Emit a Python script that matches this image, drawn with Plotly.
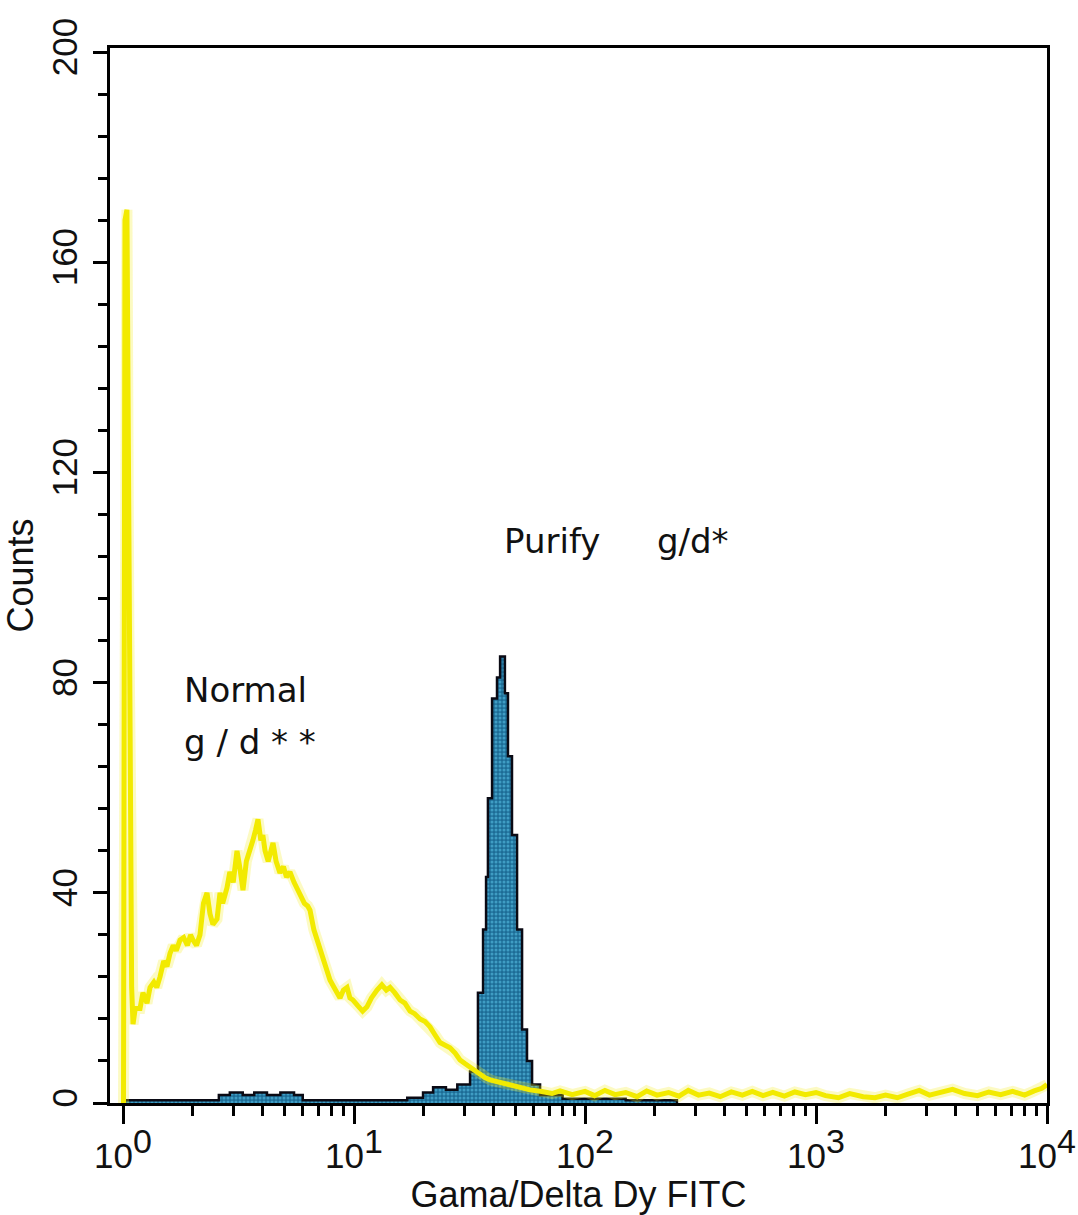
import numpy as np
import plotly.graph_objects as go

# ---- Normal g/d (yellow line histogram): intensity vs counts ----
normal_x = [1.005, 1.02, 1.04, 1.06, 1.09, 1.105, 1.13, 1.185, 1.22, 1.27, 1.309, 1.36, 1.40,
            1.446, 1.50, 1.55, 1.598, 1.65, 1.70, 1.765, 1.83, 1.90, 1.96, 2.01, 2.08, 2.154,
            2.23, 2.31, 2.38, 2.45, 2.553, 2.63, 2.70, 2.82, 2.90, 3.00, 3.115, 3.20, 3.307,
            3.42, 3.546, 3.65, 3.75, 3.84, 3.95, 4.03, 4.12, 4.25, 4.46, 4.6, 4.78, 4.95, 5.1,
            5.28, 5.5, 5.65, 5.84, 6.1, 6.3, 6.45, 6.7, 6.92, 7.1, 7.34, 7.6, 7.87, 8.2, 8.4,
            8.70, 9.0, 9.33, 9.6, 9.90, 10.4, 10.9, 11.38, 11.9, 12.58, 13.2, 13.8, 14.32, 15.0,
            15.82, 16.6, 17.48, 18.3, 19.31, 20.3, 21.33, 22.4, 23.57, 24.8, 26.04, 27.4, 28.77,
            30.2, 31.78, 33.4, 35.12, 37, 38.8, 42, 47.4, 52, 57.8, 65, 72, 78, 88, 100, 110,
            122, 135, 150, 168, 185, 205, 230, 255, 280, 310, 345, 385, 430, 480, 530, 590, 650,
            730, 810, 900, 1000, 1100, 1250, 1400, 1600, 1800, 2000, 2250, 2500, 2800, 3100,
            3500, 3900, 4400, 5000, 5600, 6300, 7100, 8000, 8800, 9500, 10000]
normal_counts = [0, 168, 170, 90, 22, 15, 18, 18, 21, 19, 22, 23, 22,
                 24, 27, 26, 28.5, 30, 29, 31, 31.5, 30, 32, 31, 30, 32,
                 38, 40, 36, 34, 35, 40, 38, 41, 44, 42, 48, 45, 40.5,
                 46, 48, 50, 52, 54, 50, 51, 48, 46, 49.5, 46, 43.8, 45, 43,
                 44, 42, 41, 40, 38, 37.5, 36.7, 33, 31, 29, 27, 25, 23.4, 22, 21,
                 20, 21.5, 22, 20, 19.6, 18.5, 17.5, 18.3, 20, 21.5, 22.5, 21.5, 22, 21,
                 19.6, 19, 17.5, 17, 16, 15.5, 14.5, 13, 11.5, 11, 10.5, 9.5, 8.2,
                 7.5, 6.8, 6, 5.3, 4.8, 4.4, 4, 3.4, 2.8, 2.5, 2.2, 1.8, 2.3, 1.6, 2.2, 1.4,
                 2.4, 1.6, 2.0, 1.2, 2.3, 1.5, 2.0, 1.3, 2.4, 1.5, 1.9, 1.2, 2.1, 1.5, 2.2, 1.4, 2.0,
                 1.3, 2.1, 1.6, 2.0, 1.4, 1.0, 1.8, 1.2, 1.0, 1.5, 1.0, 1.7, 2.4, 1.5,
                 2.0, 2.6, 1.8, 1.4, 2.1, 1.6, 2.2, 1.5, 2.3, 2.8, 3.5]

# ---- Purify g/d (filled step histogram): bin left edges and counts ----
purify_edges = [1.0, 2.6, 2.9, 3.3, 3.7, 4.2, 4.8, 5.5, 6.0, 17.0, 19.9, 22.0, 25.0, 28.0,
                31.8, 34.4, 36.2, 37.3, 38.0, 39.6, 41.6, 42.9, 45.0, 46.4, 48.3, 50.8,
                53.4, 56.1, 59.0, 63.9, 80.0, 150.0, 250.0]
purify_counts = [0.5, 1.5, 2.0, 1.5, 2.0, 1.5, 2.0, 1.5, 0.5, 1.0, 2.0, 3.0, 2.5, 3.5,
                 6, 21, 33, 43, 58, 77, 81, 85, 78, 66, 51,
                 33, 14, 8, 3.5, 1.5, 0.8, 0.5, 0]

# ---- Axis ticks ----
x_tick_vals = [1, 10, 100, 1000, 10000]
x_tick_exps = ["0", "1", "2", "3", "4"]
y_tick_vals = [0, 40, 80, 120, 160, 200]

FONT = "Liberation Sans, Arial, sans-serif"
ANN_FONT = "DejaVu Sans, Liberation Sans, sans-serif"
INK = "#111111"

# decade labels with a full-size raised exponent
x_tick_text = ['10<sup><span style="font-size:34px">%s</span></sup>' % e for e in x_tick_exps]

fig = go.Figure()

# purified population, step outline with speckled blue fill
fig.add_trace(go.Scatter(
    x=purify_edges, y=purify_counts, mode="lines", line_shape="hv",
    line=dict(color="#0a0a14", width=2.5),
    fill="tozeroy", fillcolor="#1d6c96",
    fillpattern=dict(shape=".", bgcolor="#1d6c96", fgcolor="#62cdf2", size=4, solidity=0.45),
    hoverinfo="skip", showlegend=False,
))

# normal population, soft halo under the yellow line
fig.add_trace(go.Scatter(
    x=normal_x, y=normal_counts, mode="lines",
    line=dict(color="rgba(245,238,40,0.28)", width=11),
    hoverinfo="skip", showlegend=False,
))
fig.add_trace(go.Scatter(
    x=normal_x, y=normal_counts, mode="lines",
    line=dict(color="#f2ea00", width=5),
    hoverinfo="skip", showlegend=False,
))

minor_x = [m * d for d in (1, 10, 100, 1000) for m in range(2, 10)]

fig.update_xaxes(
    type="log", range=[-0.0563, 4.0], automargin=False,
    showgrid=False, zeroline=False,
    showline=True, mirror=True, linecolor="black", linewidth=3,
    tickmode="array", tickvals=x_tick_vals, ticktext=x_tick_text,
    ticks="outside", ticklen=18, tickwidth=3, tickcolor="black",
    minor=dict(tickmode="array", tickvals=minor_x, ticks="outside",
               ticklen=10, tickwidth=3, tickcolor="black", showgrid=False),
    tickfont=dict(family=FONT, size=35, color=INK),
    ticklabelstandoff=2,
    title=dict(text="Gama/Delta Dy FITC", font=dict(family=FONT, size=36, color=INK), standoff=4),
)
fig.update_yaxes(
    range=[0, 200.8], automargin=False,
    showgrid=False, zeroline=False,
    showline=True, mirror=True, linecolor="black", linewidth=3,
    tickmode="array", tickvals=y_tick_vals,
    ticks="outside", ticklen=14, tickwidth=3, tickcolor="black",
    minor=dict(dtick=8, ticks="outside", ticklen=9, tickwidth=3, tickcolor="black", showgrid=False),
    tickangle=-90,
    tickfont=dict(family=FONT, size=35, color=INK),
    ticklabelstandoff=2,
    title=dict(text="Counts", font=dict(family=FONT, size=36, color=INK), standoff=1),
)

ann_font = dict(family=ANN_FONT, size=34, color=INK)
fig.add_annotation(x=np.log10(43.7), y=107, text="Purify", showarrow=False,
                   xanchor="left", yanchor="middle", font=ann_font)
fig.add_annotation(x=np.log10(201), y=107, text="g/d*", showarrow=False,
                   xanchor="left", yanchor="middle", font=ann_font)
fig.add_annotation(x=np.log10(1.80), y=78.6, text="Normal", showarrow=False,
                   xanchor="left", yanchor="middle", font=ann_font)
fig.add_annotation(x=np.log10(1.80), y=68.7, text="g / d * *", showarrow=False,
                   xanchor="left", yanchor="middle", font=ann_font)

fig.update_layout(
    width=1078, height=1215,
    margin=dict(l=110, r=31, t=48, b=112),
    paper_bgcolor="white", plot_bgcolor="white",
    showlegend=False,
)

fig.write_html("out.html")
